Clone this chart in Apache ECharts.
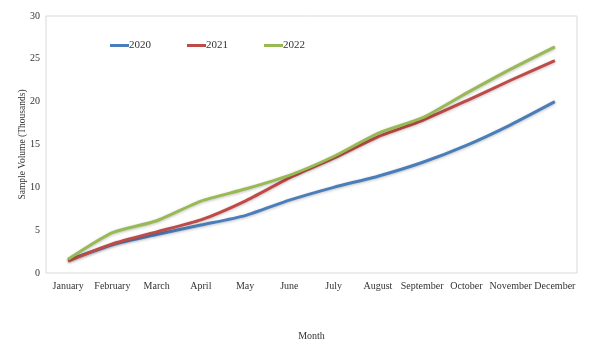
<!DOCTYPE html>
<html><head><meta charset="utf-8">
<script src="https://cdn.jsdelivr.net/npm/echarts@6/dist/echarts.min.js"></script>
<style>html,body{margin:0;padding:0;background:#fff}#c{width:594px;height:351px}</style>
</head><body><div id="c"></div>
<script>
var months = ['January','February','March','April','May','June','July','August','September','October','November','December'];
var s2020 = [1.5, 3.3, 4.5, 5.6, 6.7, 8.5, 10.0, 11.3, 12.9, 14.9, 17.3, 20.0];
var s2021 = [1.4, 3.4, 4.8, 6.2, 8.4, 11.1, 13.4, 15.9, 17.8, 20.1, 22.5, 24.8];
var s2022 = [1.6, 4.7, 6.1, 8.4, 9.8, 11.4, 13.6, 16.3, 18.1, 21.0, 23.8, 26.4];
var yTicks = [0, 5, 10, 15, 20, 25, 30];
var font = '"Liberation Serif", "DejaVu Serif", serif';
function line(name, data, color) {
  return {name: name, type: 'line', data: data, smooth: 0.2, symbol: 'none',
    lineStyle: {width: 3, color: color, shadowColor: 'rgba(0,0,0,0.25)', shadowBlur: 3, shadowOffsetY: 1},
    itemStyle: {color: color}};
}
var chart = echarts.init(document.getElementById('c'));
chart.setOption({
  animation: false,
  textStyle: {fontFamily: font},
  grid: {left: 46, top: 16, right: 17, bottom: 78, show: true, borderColor: '#d9d9d9', borderWidth: 1},
  legend: {top: 35, left: 105, itemWidth: 19, itemHeight: 3, itemGap: 36, icon: 'rect',
    textStyle: {fontFamily: font, fontSize: 11, color: '#333', padding: [0, 0, 0, -5]},
    data: ['2020', '2021', '2022']},
  xAxis: {type: 'category', data: months, boundaryGap: true, name: 'Month', nameLocation: 'middle', nameGap: 58,
    nameMoveOverlap: false,
    nameTextStyle: {fontFamily: font, fontSize: 10, color: '#333'},
    axisLine: {show: false}, axisTick: {show: false},
    axisLabel: {fontFamily: font, fontSize: 10, color: '#333', margin: 8, interval: 0}},
  yAxis: {type: 'value', min: yTicks[0], max: yTicks[yTicks.length - 1], interval: 5,
    name: 'Sample Volume (Thousands)', nameLocation: 'middle', nameGap: 19, nameMoveOverlap: false,
    nameTextStyle: {fontFamily: font, fontSize: 9.5, color: '#333'},
    axisLine: {show: false}, axisTick: {show: false}, splitLine: {show: false},
    axisLabel: {fontFamily: font, fontSize: 10, color: '#333', margin: 6}},
  series: [line('2020', s2020, '#4a7ebb'), line('2021', s2021, '#be4b48'), line('2022', s2022, '#98b954')]
});
</script></body></html>
